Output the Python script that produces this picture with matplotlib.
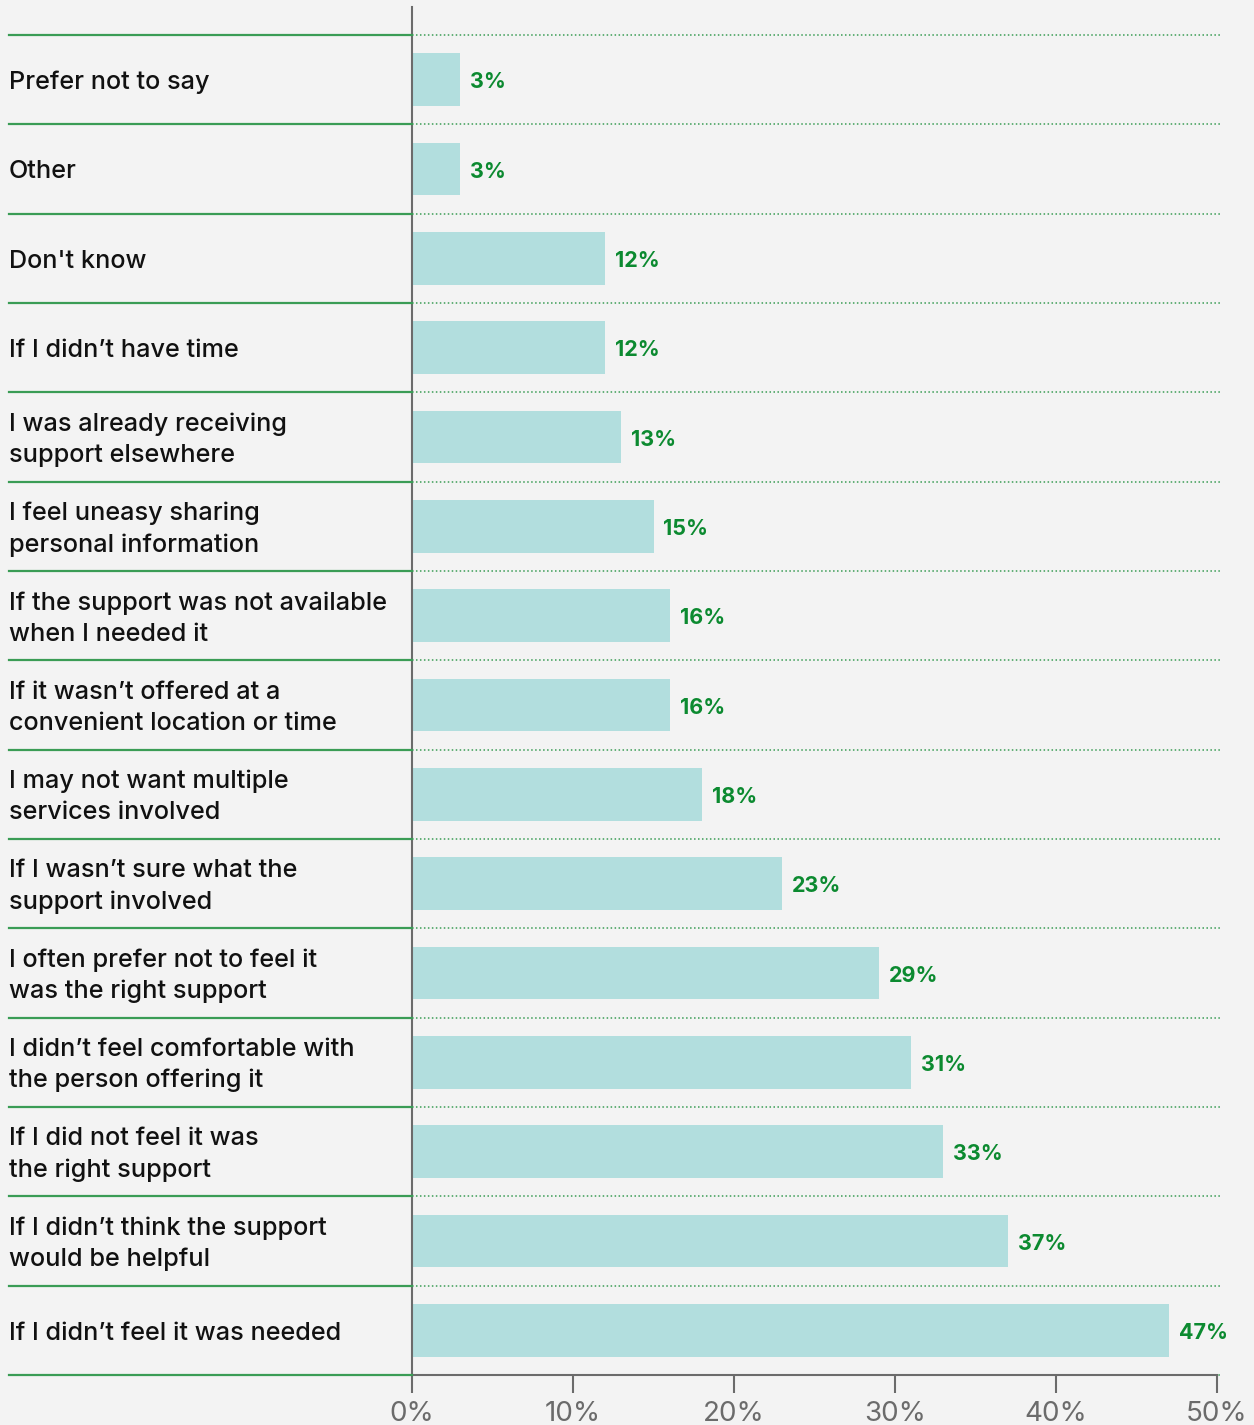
import numpy as np
import matplotlib.pyplot as plt
from matplotlib.transforms import blended_transform_factory

categories = [
    "Prefer not to say",
    "Other",
    "Don't know",
    "If I didn\u2019t have time",
    "I was already receiving\nsupport elsewhere",
    "I feel uneasy sharing\npersonal information",
    "If the support was not available\nwhen I needed it",
    "If it wasn\u2019t offered at a\nconvenient location or time",
    "I may not want multiple\nservices involved",
    "If I wasn\u2019t sure what the\nsupport involved",
    "I often prefer not to feel it\nwas the right support",
    "I didn\u2019t feel comfortable with\nthe person offering it",
    "If I did not feel it was\nthe right support",
    "If I didn\u2019t think the support\nwould be helpful",
    "If I didn\u2019t feel it was needed",
]
values = [3, 3, 12, 12, 13, 15, 16, 16, 18, 23, 29, 31, 33, 37, 47]
xticks = [0, 10, 20, 30, 40, 50]

BG = "#f3f3f3"
BAR = "#b2dede"
GREEN = "#0c8a30"
LINE_GREEN = "#3a9c55"
AXIS_GREY = "#6b6b6b"

W, H = 1254, 1425
fig = plt.figure(figsize=(W / 100, H / 100), dpi=100, facecolor=BG)
ax = fig.add_axes([412 / W, 1 - 1375 / H, (1217 - 412) / W, (1375 - 7) / H])
ax.set_facecolor(BG)

y = np.arange(len(categories))
ax.barh(y, values, height=0.59, color=BAR, zorder=2)

ax.set_xlim(0, 50)
ax.set_ylim(len(categories) - 0.5, -0.5 - 28 / 89.3)

# dotted separators across the plot, solid ones in the label column
trans = blended_transform_factory(fig.transFigure, ax.transData)
for k in range(len(categories) + 1):
    yy = k - 0.5
    ax.plot([0, 50.2], [yy, yy], ls=(0, (1, 1.6)), lw=1.1, color=LINE_GREEN,
            zorder=1, clip_on=False)
    ax.plot([9 / W, 412 / W], [yy, yy], transform=trans, lw=1.6, color=LINE_GREEN,
            clip_on=False, zorder=3)

# small nudge down so text sits on the row centre like the original
dy = 0.03
for yi, lab in zip(y, categories):
    ax.text(9 / W, yi + dy, lab, transform=trans, ha="left", va="center",
            fontsize=18.2, color="#111111", family=["Inter", "DejaVu Sans"],
            fontweight="medium", linespacing=1.45)

for yi, v in zip(y, values):
    ax.text(v + 0.62, yi + dy, f"{v}%", ha="left", va="center", fontsize=15.5,
            color=GREEN, fontweight="bold", family=["Inter", "DejaVu Sans"])

for s in ["top", "right"]:
    ax.spines[s].set_visible(False)
ax.spines["left"].set_color(AXIS_GREY)
ax.spines["left"].set_linewidth(1.5)
ax.spines["bottom"].set_color(AXIS_GREY)
ax.spines["bottom"].set_linewidth(1.5)

ax.set_yticks([])
ax.set_xticks(xticks)
ax.set_xticklabels([f"{t}%" for t in xticks], fontsize=20, color=AXIS_GREY,
                   family=["Inter", "DejaVu Sans"])
ax.tick_params(axis="x", length=13, width=1.5, color=AXIS_GREY, pad=6)

fig.savefig("out.png", dpi=100, facecolor=BG)
